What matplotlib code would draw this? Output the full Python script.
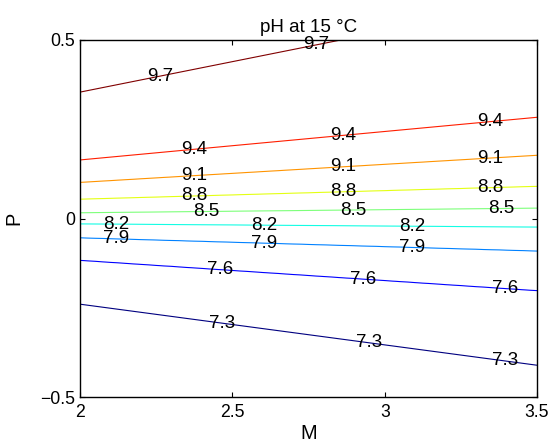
import numpy as np
import matplotlib
matplotlib.use('Agg')
import matplotlib.pyplot as plt

"""
Contour plot of pH over M and P at 15 degC
"""

plt.rcParams['font.family'] = ['Liberation Sans', 'DejaVu Sans']

#%% data
ph_levels = [7.3, 7.6, 7.9, 8.2, 8.5, 8.8, 9.1, 9.4, 9.7]
p_at_m_min = [-0.240, -0.117, -0.054, -0.015, 0.016, 0.054, 0.101, 0.164, 0.354]  # P of each contour at M = 2
p_at_m_max = [-0.411, -0.202, -0.091, -0.024, 0.029, 0.090, 0.177, 0.283, 0.610]  # P of each contour at M = 3.5
m_range = [2.0, 3.5]

# M positions of the contour labels for each level
label_m = {
    7.3: [2.466, 2.948, 3.395],
    7.6: [2.460, 2.929, 3.395],
    7.9: [2.120, 2.604, 3.090],
    8.2: [2.120, 2.604, 3.090],
    8.5: [2.414, 2.896, 3.382],
    8.8: [2.374, 2.863, 3.346],
    9.1: [2.374, 2.863, 3.346],
    9.4: [2.374, 2.863, 3.346],
    9.7: [2.263, 2.775],
}

x_ticks = [2, 2.5, 3, 3.5]
y_ticks = [-0.5, 0, 0.5]

#%% build pH field whose contours follow the read lines
m_grid = np.linspace(m_range[0], m_range[1], 61)
p_grid = np.linspace(-0.8, 0.9, 851)
p_lo = np.array(p_at_m_min)
p_hi = np.array(p_at_m_max)
lev = np.array(ph_levels)
ph = np.zeros((p_grid.size, m_grid.size))
for j, m in enumerate(m_grid):
    frac = (m - m_range[0]) / (m_range[1] - m_range[0])
    p_lines = p_lo + (p_hi - p_lo) * frac
    # extend by one step on each side so the field keeps its gradient past the outer lines
    p_ext = np.concatenate([[p_lines[0] - 4*(p_lines[1] - p_lines[0])], p_lines,
                            [p_lines[-1] + 4*(p_lines[-1] - p_lines[-2])]])
    l_ext = np.concatenate([[lev[0] - 4*(lev[1] - lev[0])], lev,
                            [lev[-1] + 4*(lev[-1] - lev[-2])]])
    ph[:, j] = np.interp(p_grid, p_ext, l_ext)

#%% plot
fig = plt.figure(figsize=(5.51, 4.42), dpi=100)
ax = fig.add_axes([80/551, 45/442, 457/551, 357/442])

cs = ax.contour(m_grid, p_grid, ph, levels=ph_levels, cmap='jet', linewidths=0.8)

ax.set_xlim(m_range)
ax.set_ylim([-0.5, 0.5])
ax.set_xticks(x_ticks)
ax.set_xticklabels(['2', '2.5', '3', '3.5'])
ax.set_yticks(y_ticks)
ax.set_yticklabels(['\u22120.5', '0', '0.5'])

ax.tick_params(direction='in', top=True, right=True, length=3.5, width=0.8, labelsize=12.7)
ax.tick_params(axis='x', pad=5)
ax.tick_params(axis='y', pad=3.5)
for spine in ax.spines.values():
    spine.set_linewidth(1.0)

# contour labels, horizontal and not breaking the lines
positions = []
for i, lv in enumerate(ph_levels):
    for m in label_m[lv]:
        p = np.interp(m, m_range, [p_at_m_min[i], p_at_m_max[i]])
        positions.append((m, p))
texts = ax.clabel(cs, manual=positions, inline=False, fontsize=13.5, colors='k', fmt='%.1f')
for t in texts:
    t.set_rotation(0)
    t.set_clip_on(False)

ax.set_title('pH at 15 \u00b0C', fontsize=13.5, pad=6)
ax.set_xlabel('M', fontsize=14.4)
ax.set_ylabel('P', fontsize=14.4)
ax.xaxis.set_label_coords(0.5, -0.077)
ax.yaxis.set_label_coords(-0.123, 0.5)

plt.savefig('out.png', dpi=100)
